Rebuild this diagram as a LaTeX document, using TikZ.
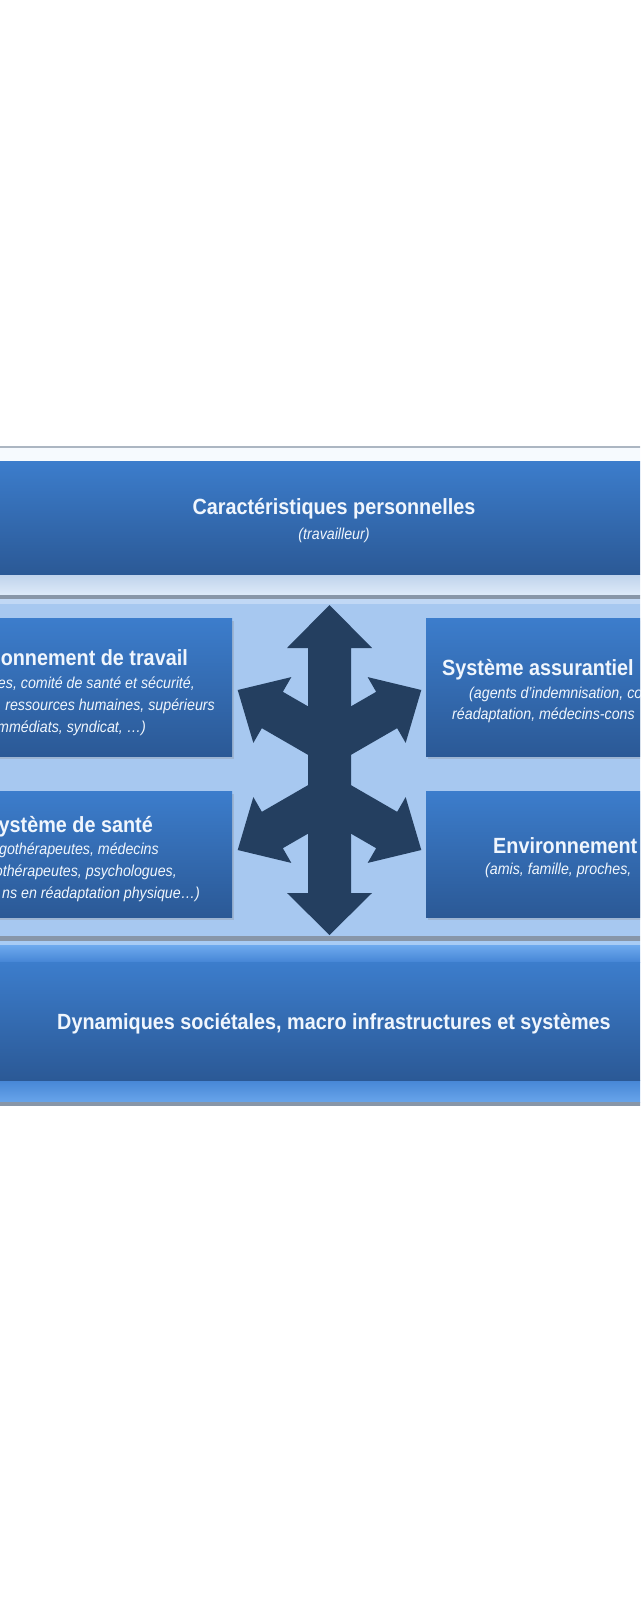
\documentclass[tikz,border=0pt]{standalone}
\usepackage{fontspec}
\setmainfont{Liberation Sans}[FakeStretch=0.9]
\usepackage{tikz}
\usetikzlibrary{positioning,shadows}
\definecolor{boxtop}{RGB}{60,125,204}
\definecolor{boxbot}{RGB}{43,89,150}
\definecolor{panelblue}{RGB}{167,200,240}
\definecolor{palerim}{RGB}{222,234,249}
\definecolor{dimrim}{RGB}{190,210,235}
\definecolor{rimgray}{RGB}{136,150,168}
\definecolor{skyrim}{RGB}{110,170,238}
\definecolor{midrim}{RGB}{70,134,214}
\definecolor{navy}{RGB}{36,63,96}
\definecolor{softwhite}{RGB}{240,246,253}

\begin{document}
\begin{tikzpicture}[x=1pt, y=-1pt,
    bluebox/.style={draw=none, top color=boxtop, bottom color=boxbot, inner sep=0pt},
    sidebox/.style={bluebox, drop shadow={opacity=0.25, shadow xshift=1.5pt, shadow yshift=-2.5pt}},
    headtext/.style={text=softwhite, font=\fontsize{22}{26}\selectfont\bfseries, inner sep=0pt},
    subtext/.style={text=softwhite, font=\fontsize{15.8}{19}\selectfont\itshape, inner sep=0pt},
    spoke/.style={fill=navy, draw=none}
]
\useasboundingbox (0,0) rectangle (640,1600);
\clip (0,0) rectangle (640,1600);

\fill[white] (0,0) rectangle (640,1600);
\draw[rimgray!70, line width=1.2pt] (-10,447) -- (650,447);
\fill[softwhite!60!white] (-10,448) rectangle (650,461);
\shade[top color=dimrim, bottom color=palerim] (-10,574) rectangle (650,595);
\fill[rimgray] (-10,595) rectangle (650,599);
\fill[panelblue!70!white] (-10,599) rectangle (650,604);
\fill[panelblue] (-10,604) rectangle (650,936);
\fill[rimgray] (-10,936) rectangle (650,941);
\fill[skyrim!60!white] (-10,941) rectangle (650,945);
\shade[top color=skyrim, bottom color=midrim] (-10,945) rectangle (650,962);
\shade[top color=midrim, bottom color=skyrim!85!midrim] (-10,1080) rectangle (650,1102);
\fill[rimgray] (-10,1102) rectangle (650,1106);

\node[bluebox, minimum width=680pt, minimum height=113pt] (person) at (320,517.5) {};
\node[sidebox, minimum width=332pt, minimum height=138pt] (work) at (66,687) {};
\node[sidebox, minimum width=314pt, minimum height=138pt] (insurer) at (583,687) {};
\node[sidebox, minimum width=332pt, minimum height=126pt] (health) at (66,854) {};
\node[sidebox, minimum width=314pt, minimum height=126pt] (circle) at (583,854) {};
\node[bluebox, minimum width=680pt, minimum height=118pt] (society) at (320,1021) {};

\node[headtext, anchor=base] (persontitle) at (334,514) {Caractéristiques personnelles};
\node[subtext, anchor=base] (personnote) at (334,539) {(travailleur)};

\node[headtext, anchor=base east] (worktitle) at (188,665) {onnement de travail};
\node[subtext, anchor=base east] (workline1) at (195,688) {es, comité de santé et sécurité,};
\node[subtext, anchor=base east] (workline2) at (215,710) {ressources humaines, supérieurs};
\node[subtext, anchor=base east] (workline3) at (146,732) {mmédiats, syndicat, …)};

\node[headtext, anchor=base west] (insurertitle) at (442,675) {Système assurantiel};
\node[subtext, anchor=base west] (insurerline1) at (469,698) {(agents d’indemnisation, co};
\node[subtext, anchor=base west] (insurerline2) at (452,719) {réadaptation, médecins-cons};

\node[headtext, anchor=base east] (healthtitle) at (153,832) {ystème de santé};
\node[subtext, anchor=base east] (healthline1) at (159,854) {gothérapeutes, médecins};
\node[subtext, anchor=base east] (healthline2) at (177,876) {othérapeutes, psychologues,};
\node[subtext, anchor=base east] (healthline3) at (200,898) {ns en réadaptation physique…)};

\node[headtext, anchor=base west] (circletitle) at (493,853) {Environnement};
\node[subtext, anchor=base west] (circleline) at (485,874) {(amis, famille, proches,};

\node[headtext, anchor=base] (societytitle) at (334,1029) {Dynamiques sociétales, macro infrastructures et systèmes};

\fill[spoke] (329.5,605) -- (372,648) -- (351,648) -- (351,893) -- (372,893) -- (329.5,935)
  -- (287,893) -- (308,893) -- (308,648) -- (287,648) -- cycle;
\foreach \oy/\ang in {743/150, 743/30, 797/210, 797/330}
  \fill[spoke, shift={(329.5,\oy)}, rotate=\ang] (0,-21) -- (66,-21) -- (66,-38)
    -- (106,0) -- (66,38) -- (66,21) -- (0,21) -- cycle;
\end{tikzpicture}
\end{document}
